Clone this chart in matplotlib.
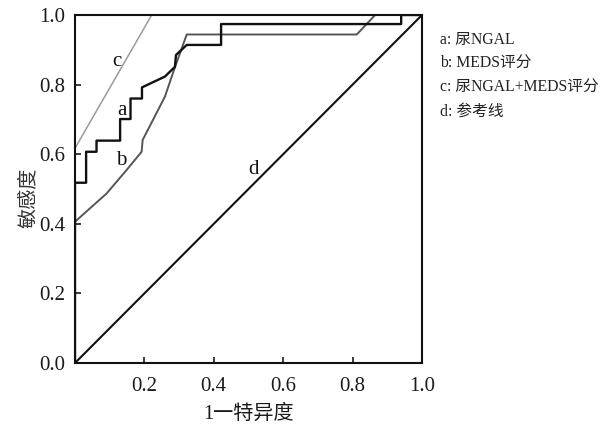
import matplotlib
matplotlib.use("Agg")
import matplotlib.pyplot as plt

plt.rcParams['font.family'] = ['Liberation Serif', 'Noto Sans CJK SC']

# curve a: 尿NGAL (stepwise)
a_x = [0.0, 0.0, 0.032, 0.032, 0.062, 0.062, 0.130, 0.130, 0.160, 0.160,
       0.193, 0.193, 0.259, 0.288, 0.291, 0.322, 0.421, 0.421, 0.940, 0.940, 1.0]
a_y = [0.0, 0.518, 0.518, 0.607, 0.607, 0.639, 0.639, 0.701, 0.701, 0.760,
       0.760, 0.792, 0.823, 0.851, 0.885, 0.914, 0.914, 0.974, 0.974, 1.0, 1.0]

# curve b: MEDS评分
b_x = [0.0, 0.091, 0.149, 0.192, 0.195, 0.259, 0.288, 0.322, 0.812, 0.865, 1.0]
b_y = [0.406, 0.487, 0.555, 0.607, 0.641, 0.765, 0.850, 0.944, 0.944, 1.0, 1.0]

# curve c: 尿NGAL+MEDS评分
c_x = [0.0, 0.221, 1.0]
c_y = [0.617, 1.0, 1.0]

# curve d: reference line
d_x = [0.0, 1.0]
d_y = [0.0, 1.0]

labels = ["a", "b", "c", "d"]
label_pos = [(0.135, 0.727), (0.133, 0.583), (0.122, 0.865), (0.513, 0.555)]
legend_lines = ["a: 尿NGAL", "b: MEDS评分", "c: 尿NGAL+MEDS评分", "d: 参考线"]

xticks = [0.2, 0.4, 0.6, 0.8, 1.0]
yticks = [0.0, 0.2, 0.4, 0.6, 0.8, 1.0]

fig = plt.figure(figsize=(6.11, 4.26), dpi=100)
ax = fig.add_axes([75 / 611, 1 - 363 / 426, 347 / 611, 348 / 426])

ax.plot(d_x, d_y, color="#111111", lw=1.5)
ax.plot(c_x, c_y, color="#9a9a9a", lw=1.1)
ax.plot(b_x, b_y, color="#555555", lw=1.4)
ax.plot(a_x, a_y, color="#111111", lw=1.7)

for lab, (lx, ly) in zip(labels, label_pos):
    ax.text(lx, ly, lab, fontsize=15, ha="center", va="center", color="#111111")

ax.set_xlim(0, 1)
ax.set_ylim(0, 1)
ax.set_xticks(xticks)
ax.set_xticklabels([f"{v:.1f}" for v in xticks])
ax.set_yticks(yticks)
ax.set_yticklabels([f"{v:.1f}" for v in yticks])
ax.tick_params(direction="in", length=4, width=1.2, labelsize=15, colors="#1a1a1a")
ax.tick_params(axis="x", pad=10)
ax.tick_params(axis="y", pad=7)
for s in ax.spines.values():
    s.set_linewidth(1.5)
    s.set_color("#111111")

ax.set_xlabel("1一特异度", fontsize=14.5, labelpad=6, color="#1a1a1a")
ax.set_ylabel("敏感度", fontsize=14.5, color="#333333")
ax.yaxis.set_label_coords(-0.105, 0.475)

for i, t in enumerate(legend_lines):
    fig.text(440 / 611, 1 - (40 + 24 * i) / 426, t, fontsize=11.3,
             ha="left", va="center", color="#222222")

fig.savefig("out.png", dpi=100)
